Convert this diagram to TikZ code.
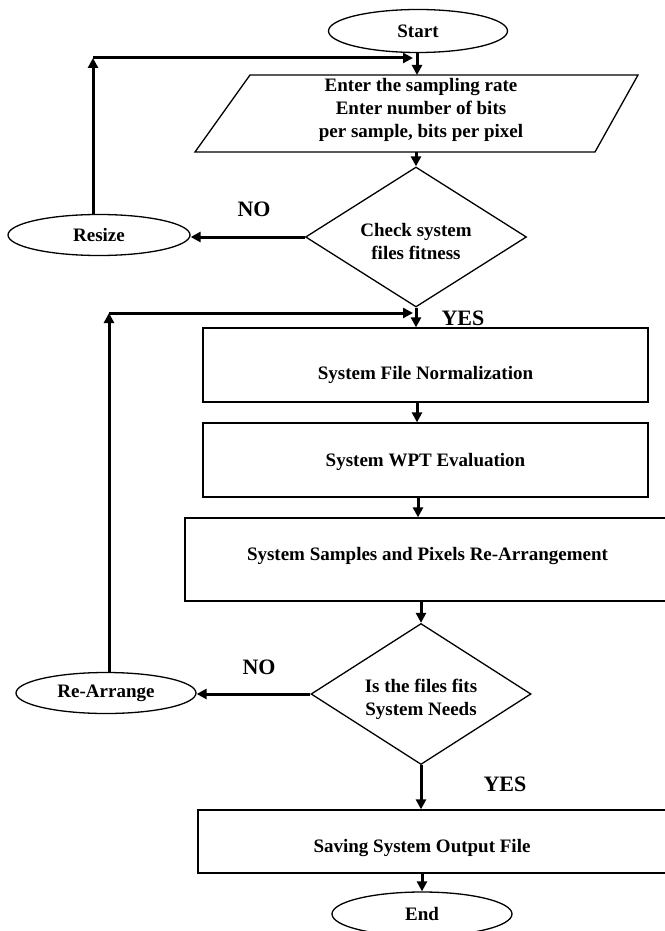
\documentclass[tikz,border=0pt]{standalone}
\usepackage{fontspec}
\setmainfont{Liberation Serif}
\usetikzlibrary{shapes.geometric,arrows.meta,calc}
\begin{document}
\begin{tikzpicture}[x=1pt,y=-1pt,
  every node/.style={font=\fontsize{19}{23}\selectfont\bfseries},
  shp/.style={draw, line width=1.3pt, inner sep=0pt},
  ell/.style={shp, ellipse},
  rect/.style={shp, rectangle},
  dia/.style={shp, diamond},
  conn/.style={line width=3pt, -{Triangle[length=10pt,width=10pt]}},
  yn/.style={font=\fontsize{22}{26}\selectfont\bfseries}]
\useasboundingbox (0,0) rectangle (664,931);

% Start
\node[ell, minimum width=179pt, minimum height=43pt] (start) at (418,31) {Start};

% Input parallelogram
\coordinate (p1) at (250,75);
\coordinate (p2) at (638,75);
\coordinate (p3) at (595,152);
\coordinate (p4) at (195,152);
\draw[line width=1.3pt] (p1) -- (p2) -- (p3) -- (p4) -- cycle;
\node[align=center] (inp) at (421,110) {Enter the sampling rate\\Enter number of bits\\per sample, bits per pixel};
\coordinate (inpT) at (417,75);
\coordinate (inpB) at (416,152);
\draw[conn] (start.south -| inpT) -- (inpT);

% Decision 1
\node[dia, minimum width=221pt, minimum height=140pt,
  label={[align=center,yshift=-4pt]center:Check system\\files fitness}] (d1) at (416,237) {};
\draw[conn] (inpB) -- (d1.north);

% Resize
\node[ell, minimum width=182pt, minimum height=41pt] (resize) at (99,235) {Resize};
\draw[conn] (d1.west) -- (d1.west -| resize.east);
\node[yn] (no1) at (254,209) {NO};
\coordinate (c1) at (93,58);
\coordinate (j1) at (413,58);
\draw[conn] (resize.north -| c1) -- (c1);
\draw[conn] (c1) -- (j1);

% YES 1
\node[yn] (yes1) at (463,318) {YES};

% Box 1
\node[rect, minimum width=445pt, minimum height=74pt,
  label={[yshift=-10pt]center:System File Normalization}] (b1) at (425.5,365) {};
\draw[conn] (d1.south) -- (d1.south |- b1.north);

% Box 2
\node[rect, minimum width=445pt, minimum height=74pt,
  label={[yshift=-2pt]center:System WPT Evaluation}] (b2) at (425.5,460) {};
\draw[conn] (b1.south -| inpT) -- (b2.north -| inpT);

% Box 3
\node[rect, minimum width=485pt, minimum height=83pt,
  label={[yshift=3.5pt]center:System Samples and Pixels Re-Arrangement}] (b3) at (427.5,559.5) {};
\coordinate (x3) at (418,0);
\draw[conn] (b2.south -| x3) -- (b3.north -| x3);

% Decision 2
\node[dia, minimum width=220pt, minimum height=141pt,
  label={[align=center,yshift=-5.5pt]center:Is the files fits\\System Needs}] (d2) at (421,694) {};
\draw[conn] (b3.south -| d2.north) -- (d2.north);

% Re-Arrange
\node[ell, minimum width=180pt, minimum height=41pt] (rearr) at (106,693) {Re-Arrange};
\draw[conn] (d2.west) -- (d2.west -| rearr.east);
\node[yn] (no2) at (259,667) {NO};
\coordinate (c2) at (109,313);
\coordinate (j2) at (413,313);
\draw[conn] (rearr.north -| c2) -- (c2);
\draw[conn] (c2) -- (j2);

% Box 4
\node[rect, minimum width=472pt, minimum height=63pt,
  label={[xshift=-12pt,yshift=-6.5pt]center:Saving System Output File}] (b4) at (434,841.5) {};
\draw[conn] (d2.south) -- (d2.south |- b4.north);
\node[yn] (yes2) at (505,784) {YES};

% End
\node[ell, minimum width=180pt, minimum height=44pt] (end) at (422,914) {End};
\draw[conn] (b4.south -| end.north) -- (end.north);
\end{tikzpicture}
\end{document}
